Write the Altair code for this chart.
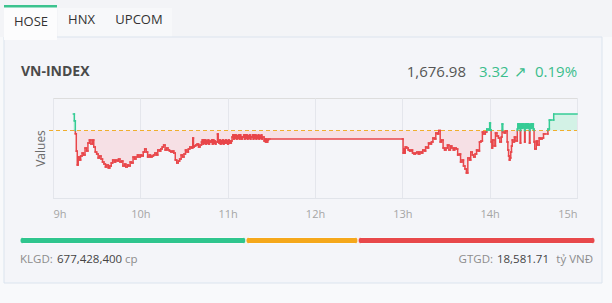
import altair as alt
import pandas as pd

FONT = "Open Sans"
REF = 1673.66          # reference level (previous close)
W, H = 524, 100        # plot area
OX, OY = 53, 98        # plot origin on the page

# ---------------- intraday series (time, index value) ----------------
times = [
    # morning session
    "09:14:00", "09:14:40", "09:15:20", "09:16:00", "09:16:40", "09:17:20", "09:18:00", "09:19:00",
    "09:20:00", "09:21:00", "09:22:00", "09:23:00", "09:24:00", "09:25:00", "09:26:00", "09:27:00",
    "09:28:00", "09:29:00", "09:30:00", "09:31:00", "09:32:00", "09:33:00", "09:34:00", "09:35:00",
    "09:36:00", "09:37:00", "09:38:00", "09:39:00", "09:40:00", "09:41:00", "09:42:00", "09:43:00",
    "09:44:00", "09:45:00", "09:46:00", "09:47:00", "09:48:00", "09:49:00", "09:50:00", "09:51:00",
    "09:52:00", "09:53:00", "09:54:00", "09:55:00", "09:56:00", "09:57:00", "09:58:00", "09:59:00",
    "10:00:00", "10:01:00", "10:02:00", "10:03:00", "10:04:00", "10:05:00", "10:06:00", "10:07:00",
    "10:08:00", "10:09:00", "10:10:00", "10:11:00", "10:12:00", "10:13:00", "10:14:00", "10:15:00",
    "10:16:00", "10:17:00", "10:18:00", "10:19:00", "10:20:00", "10:21:00", "10:22:00", "10:23:00",
    "10:24:00", "10:25:00", "10:26:00", "10:27:00", "10:28:00", "10:29:00", "10:30:00", "10:31:00",
    "10:32:00", "10:33:00", "10:34:00", "10:35:00", "10:36:00", "10:36:30", "10:37:00", "10:38:00",
    "10:39:00", "10:40:00", "10:41:00",
    "10:42:00", "10:42:30", "10:43:00", "10:43:30", "10:44:00", "10:44:30", "10:45:00", "10:45:30",
    "10:46:00", "10:46:30", "10:47:00", "10:47:30", "10:48:00", "10:48:30", "10:49:00", "10:49:30",
    "10:50:00", "10:50:30", "10:51:00", "10:51:30", "10:52:00", "10:53:00", "10:53:30",
    "10:54:00", "10:54:30", "10:55:00", "10:55:30", "10:56:00", "10:56:30", "10:57:00", "10:57:30",
    "10:58:00", "10:58:30", "10:59:00", "10:59:30", "11:00:00", "11:00:30", "11:01:00", "11:01:30",
    "11:02:00", "11:02:30",
    "11:03:00", "11:03:30", "11:04:00", "11:04:30", "11:05:00", "11:05:30", "11:06:00", "11:06:30",
    "11:07:00", "11:07:30", "11:08:00", "11:08:30", "11:09:00", "11:09:30", "11:10:00", "11:10:30",
    "11:11:00", "11:11:30", "11:12:00", "11:12:30", "11:13:00", "11:13:30", "11:14:00", "11:14:30",
    "11:15:00", "11:15:30", "11:16:00", "11:16:30", "11:17:00", "11:17:30", "11:18:00", "11:18:30",
    "11:19:00", "11:19:30", "11:20:00", "11:20:30", "11:21:00", "11:21:30", "11:22:00", "11:22:30",
    "11:23:00", "11:23:30", "11:24:00", "11:25:00", "11:25:30", "11:26:00", "11:26:30", "11:27:00",
    "11:27:30", "11:28:00", "11:29:00",
    # afternoon session
    "13:00:00", "13:00:30", "13:01:00", "13:01:30", "13:02:00", "13:03:00", "13:04:00", "13:05:00",
    "13:06:00", "13:07:00", "13:08:00", "13:09:00", "13:10:00", "13:11:00", "13:12:00", "13:13:00",
    "13:14:00", "13:15:00", "13:16:00", "13:17:00", "13:18:00", "13:19:00", "13:20:00", "13:21:00",
    "13:22:00", "13:23:00", "13:24:00", "13:25:00", "13:26:00", "13:27:00", "13:28:00", "13:29:00",
    "13:30:00", "13:31:00", "13:32:00", "13:33:00", "13:34:00", "13:35:00", "13:36:00", "13:37:00",
    "13:38:00", "13:39:00", "13:40:00", "13:41:00", "13:42:00", "13:43:00", "13:44:00", "13:45:00",
    "13:46:00", "13:47:00", "13:48:00", "13:49:00", "13:50:00", "13:51:00", "13:52:00", "13:53:00",
    "13:54:00", "13:55:00", "13:56:00", "13:57:00", "13:58:00", "13:59:00", "14:00:00", "14:00:30",
    "14:01:00", "14:01:30", "14:02:00", "14:03:00", "14:04:00", "14:05:00", "14:06:00", "14:07:00",
    "14:08:00", "14:08:30", "14:09:00", "14:10:00", "14:11:00", "14:12:00", "14:12:30", "14:13:00",
    "14:13:30", "14:14:00", "14:14:30", "14:15:00", "14:15:30", "14:16:00", "14:17:00", "14:18:00",
    "14:19:00", "14:19:20", "14:19:40", "14:20:00", "14:20:20", "14:20:40", "14:21:00", "14:21:20",
    "14:21:40", "14:22:00", "14:22:20", "14:22:40", "14:23:00", "14:23:20", "14:23:40", "14:24:00",
    "14:24:20", "14:24:40", "14:25:00", "14:25:20", "14:25:40", "14:26:00", "14:26:20", "14:26:40",
    "14:27:00", "14:27:20", "14:27:40", "14:28:00", "14:28:20", "14:28:40", "14:29:00", "14:29:20",
    "14:29:40", "14:30:00", "14:30:30", "14:31:00", "14:32:00", "14:33:00", "14:34:00", "14:35:00",
    "14:36:00", "14:37:00", "14:38:00", "14:40:00", "14:41:00", "14:42:00", "14:44:00", "15:00:00",
]
values = [
    # morning session
    1676.98, 1675.60, 1673.00, 1669.50, 1666.72, 1668.33, 1667.72, 1668.53,
    1669.13, 1668.73, 1670.14, 1669.53, 1671.14, 1671.75, 1670.94, 1671.75,
    1670.34, 1669.33, 1668.93, 1668.13, 1668.53, 1667.92, 1667.32, 1666.92,
    1666.32, 1666.72, 1666.12, 1666.52, 1667.12, 1667.72, 1667.32, 1667.72,
    1667.52, 1667.92, 1667.32, 1667.52, 1666.52, 1666.92, 1666.32, 1666.72,
    1666.52, 1667.32, 1667.12, 1668.33, 1667.92, 1668.33, 1668.73, 1668.33,
    1668.73, 1668.53, 1669.33, 1669.94, 1669.33, 1668.33, 1668.73, 1668.33,
    1668.53, 1668.73, 1669.13, 1668.73, 1669.74, 1669.53, 1669.94, 1670.34,
    1670.74, 1669.74, 1670.14, 1669.74, 1669.53, 1669.33, 1669.53, 1669.13,
    1667.72, 1667.12, 1667.52, 1667.92, 1668.73, 1668.33, 1668.93, 1669.74,
    1669.33, 1669.94, 1670.34, 1670.14, 1672.15, 1670.34, 1670.54, 1670.74,
    1670.94, 1670.34, 1670.74,
    1671.35, 1671.75, 1670.94, 1671.75, 1671.14, 1671.75, 1670.94, 1671.55,
    1671.14, 1671.75, 1670.94, 1671.55, 1671.35, 1671.35, 1671.75, 1670.94,
    1671.75, 1671.14, 1671.55, 1670.94, 1671.35, 1672.96, 1671.35,
    1671.14, 1671.75, 1670.94, 1671.55, 1671.14, 1671.75, 1670.94, 1671.55,
    1671.14, 1671.75, 1671.14, 1671.55, 1670.94, 1671.75, 1671.14, 1671.55,
    1671.14, 1671.55,
    1672.35, 1672.75, 1671.95, 1672.75, 1672.15, 1672.75, 1671.95, 1672.55,
    1672.15, 1672.75, 1671.95, 1672.75, 1672.35, 1671.95, 1672.35, 1672.35,
    1672.75, 1671.95, 1672.75, 1672.15, 1672.75, 1671.95, 1672.55, 1672.15,
    1672.75, 1671.95, 1672.35, 1672.35, 1672.75, 1671.95, 1672.75, 1672.15,
    1672.75, 1671.95, 1672.55, 1672.15, 1672.75, 1671.95, 1672.55, 1672.15,
    1672.75, 1671.95, 1672.35, 1671.55, 1671.95, 1671.35, 1671.95, 1671.35,
    1671.75, 1671.95, 1671.95,
    # afternoon session
    1671.95, 1669.13, 1669.94, 1669.13, 1670.34, 1670.14, 1669.74, 1669.53,
    1669.74, 1669.13, 1668.93, 1669.13, 1669.33, 1668.93, 1669.33, 1669.13,
    1669.74, 1669.53, 1670.34, 1670.14, 1671.14, 1670.94, 1671.35, 1672.15,
    1671.95, 1673.16, 1672.96, 1673.66, 1671.35, 1671.75, 1670.14, 1669.74,
    1670.14, 1670.74, 1669.74, 1670.54, 1670.14, 1669.74, 1670.14, 1669.94,
    1668.73, 1668.93, 1667.32, 1667.72, 1666.52, 1665.92, 1665.11, 1668.13,
    1667.72, 1669.33, 1668.73, 1668.33, 1668.93, 1669.74, 1669.53, 1671.35,
    1671.55, 1673.36, 1672.96, 1673.36, 1673.96, 1673.76, 1675.17, 1673.76,
    1671.35, 1670.14, 1671.75, 1670.54, 1673.16, 1672.55, 1672.15, 1671.35,
    1672.35, 1674.97, 1673.36, 1673.16, 1673.56, 1671.35, 1669.74, 1668.53,
    1667.72, 1668.13, 1669.33, 1670.54, 1671.75, 1671.35, 1672.35, 1671.55,
    1673.96, 1674.97, 1674.16, 1674.97, 1674.16, 1674.97, 1671.14, 1674.77,
    1674.16, 1674.97, 1674.16, 1674.97, 1674.36, 1674.97, 1674.16, 1671.35,
    1674.57, 1674.97, 1674.16, 1674.97, 1674.36, 1674.97, 1674.16, 1674.97,
    1674.36, 1671.14, 1674.77, 1674.16, 1674.97, 1674.16, 1674.97, 1674.36,
    1674.97, 1673.96, 1671.35, 1669.94, 1671.55, 1670.74, 1672.15, 1671.95,
    1672.15, 1672.96, 1672.96, 1673.96, 1675.77, 1675.77, 1676.98, 1676.98,
]
assert len(times) == len(values), (len(times), len(values))

hour_ticks = [9, 10, 11, 12, 13, 14, 15]

# ---------------- header / footer texts ----------------
tab_labels = ["HOSE", "HNX", "UPCOM"]
index_name = "VN-INDEX"
last_value = "1,676.98"
change_parts = ["3.32", "↗", "0.19%"]
footer_left = ["KLGD:", "677,428,400", "cp"]
footer_right = ["GTGD:", "18,581.71", "tỷ VNĐ"]

# market breadth bar (share of the bar, %)
breadth_names = ["up", "flat", "down"]
breadth_share = [39.3, 19.5, 41.2]

RED = "#e8464a"
GREEN = "#36cc96"


def to_hours(s):
    h, m, sec = (int(p) for p in s.split(":"))
    return h + m / 60 + sec / 3600


df = pd.DataFrame({"t": [to_hours(s) for s in times], "v": values})
df["ref"] = REF
df["lo"] = df["v"].clip(upper=REF)
df["hi"] = df["v"].clip(lower=REF)

segs = []
for i in range(len(df) - 1):
    t0, t1 = df.t[i], df.t[i + 1]
    v0, v1 = df.v[i], df.v[i + 1]
    segs.append(dict(x=t0, x2=t1, y=v0, y2=v0, side="up" if v0 > REF else "down"))
    lo0, lo1 = min(v0, REF), min(v1, REF)
    if lo0 != lo1:
        segs.append(dict(x=t1, x2=t1, y=lo0, y2=lo1, side="down"))
    hi0, hi1 = max(v0, REF), max(v1, REF)
    if hi0 != hi1:
        segs.append(dict(x=t1, x2=t1, y=hi0, y2=hi1, side="up"))
seg_df = pd.DataFrame(segs)
seg_dn = seg_df[seg_df.side == "down"]
seg_up = seg_df[seg_df.side == "up"]

XS = alt.Scale(domain=[9, 15], nice=False, zero=False)
YS = alt.Scale(domain=[1660.08, 1680.2], nice=False, zero=False)
X_AX = alt.Axis(values=hour_ticks, labelExpr="datum.value + 'h'", title=None, grid=True,
                gridColor="#e4e6ec", gridWidth=1, domainColor="#e1e4ea", ticks=False, tickSize=0,
                labelPadding=10, labelFontSize=11, labelColor="#a5a5a5", labelFont=FONT)
Y_AX = alt.Axis(title="Values", labels=False, ticks=False, domain=False, grid=False,
                titleColor="#6b6b6b", titleFontSize=12, titleFontWeight="normal",
                titlePadding=6, titleFont=FONT)


def px(X):
    return X - OX


def py(Y):
    return Y - OY


one = pd.DataFrame({"k": [0]})


def box(x0, y0, x1, y1, **kw):
    return alt.Chart(one).mark_rect(**kw).encode(
        x=alt.value(px(x0)), x2=alt.value(px(x1)), y=alt.value(py(y0)), y2=alt.value(py(y1)))


def label(s, X, Y, size, color, align="left", weight="normal"):
    return alt.Chart(pd.DataFrame({"s": [s]})).mark_text(
        baseline="middle", align=align, font=FONT, fontSize=size, color=color, fontWeight=weight
    ).encode(text="s:N", x=alt.value(px(X)), y=alt.value(py(Y)))


area_lo = alt.Chart(df).mark_area(interpolate="step-after", color="#f6e0e5").encode(
    x=alt.X("t:Q", scale=XS, axis=X_AX), y=alt.Y("lo:Q", scale=YS, axis=Y_AX), y2="ref:Q")
area_hi = alt.Chart(df).mark_area(interpolate="step-after", color="#d3f2e6").encode(
    x=alt.X("t:Q", scale=XS, axis=X_AX), y=alt.Y("hi:Q", scale=YS, axis=Y_AX), y2="ref:Q")
ref_rule = alt.Chart(pd.DataFrame({"ref": [REF]})).mark_rule(
    color="#f0ae2e", strokeDash=[4, 3], strokeWidth=1).encode(
    y=alt.Y("ref:Q", scale=YS, axis=Y_AX), x=alt.value(-4), x2=alt.value(W))


def seg_layer(d, color):
    return alt.Chart(d).mark_rule(color=color, strokeWidth=1.5, strokeCap="square").encode(
        x=alt.X("x:Q", scale=XS, axis=X_AX), x2="x2:Q",
        y=alt.Y("y:Q", scale=YS, axis=Y_AX), y2="y2:Q")


main = alt.layer(area_lo, area_hi, ref_rule, seg_layer(seg_dn, RED), seg_layer(seg_up, GREEN))

# breadth bar
starts = [sum(breadth_share[:i]) for i in range(len(breadth_share))]
bar_df = pd.DataFrame({"name": breadth_names, "x0": starts,
                       "x1": [s + w for s, w in zip(starts, breadth_share)]})
bar = alt.Chart(bar_df).mark_rect(cornerRadius=2.5, stroke="#f8f9fb", strokeWidth=1).encode(
    x=alt.X("x0:Q", scale=alt.Scale(domain=[0, 100], range=[px(20), px(595)], nice=False, zero=False),
            axis=None),
    x2="x1:Q",
    y=alt.value(py(237.5)), y2=alt.value(py(243.5)),
    color=alt.Color("name:N", scale=alt.Scale(domain=breadth_names,
                                              range=["#2fc58e", "#f5a81c", "#e8484b"]), legend=None))

decor = [
    box(0, 0, 612, 37, color="#f3f4f7"),
    box(58, 8, 172, 37, color="#f7f8fa"),
    box(602, 37, 612, 303, color="#f8f9fb"),
    box(0, 283, 612, 303, color="#f8f9fb"),
    box(0, 37, 4, 283, color="#f8f9fb"),
    box(4, 37, 602, 283, fillOpacity=0, stroke="#dbe4ee", strokeWidth=1),
    box(4, 5, 57, 40, color="#fcfcfd"),
    box(4, 5, 57, 7.5, color="#3cc38f"),
    label(tab_labels[0], 31, 22, 13, "#333333", align="center"),
    label(tab_labels[1], 81.5, 19.5, 13, "#333333", align="center"),
    label(tab_labels[2], 139, 19.5, 13, "#333333", align="center"),
    label(index_name, 21, 72, 14, "#4a4a4a", weight="bold"),
    label(last_value, 466, 72, 15, "#555555", align="right"),
    label(change_parts[0], 479, 72, 15, "#3bbd8c"),
    label(change_parts[1], 514, 72, 15, "#3bbd8c"),
    label(change_parts[2], 535, 72, 15, "#3bbd8c"),
    label(footer_left[0], 20, 260, 11.5, "#8c8c8c"),
    label(footer_left[1], 57, 260, 11.5, "#444444"),
    label(footer_left[2], 125, 260, 11.5, "#8c8c8c"),
    label(footer_right[0], 493, 260, 11.5, "#8c8c8c", align="right"),
    label(footer_right[1], 549, 260, 11.5, "#444444", align="right"),
    label(footer_right[2], 593, 260, 11.5, "#8c8c8c", align="right"),
]

chart = alt.layer(*decor, main, bar).resolve_scale(x="independent").properties(
    width=W, height=H,
    autosize=alt.AutoSizeParams(type="none"),
    padding={"left": OX, "top": OY, "right": 612 - OX - W, "bottom": 303 - OY - H},
    background="#f4f5f9",
).configure_view(stroke=None).configure(font=FONT)

chart.save("out.html", embed_options={"renderer": "svg", "actions": False})
